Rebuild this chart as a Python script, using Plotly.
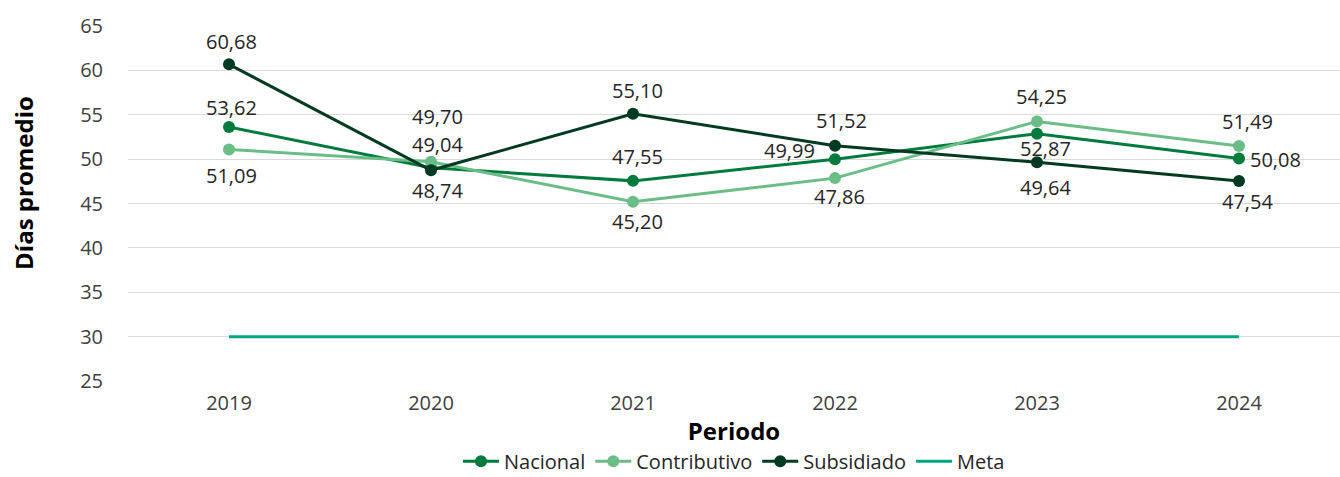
import plotly.graph_objects as go

periodos = ["2019", "2020", "2021", "2022", "2023", "2024"]
nacional = [53.62, 49.04, 47.55, 49.99, 52.87, 50.08]
contributivo = [51.09, 49.70, 45.20, 47.86, 54.25, 51.49]
subsidiado = [60.68, 48.74, 55.10, 51.52, 49.64, 47.54]
meta = [30, 30, 30, 30, 30, 30]

# label offsets in screen pixels (dx right, dy down)
off_nacional = [(2, -20), (6, -23), (4, -24), (-46, -9), (8, 15), (36, 1)]
off_contributivo = [(2, 26), (6, -45), (4, 20), (4, 18), (4, -25), (8, -24)]
off_subsidiado = [(2, -23), (6, 20), (4, -23), (6, -25), (8, 25), (8, 21)]

def fmt(v):
    return f"{v:.2f}".replace(".", ",")

FONT = "Open Sans"
fig = go.Figure()

def add(name, vals, color, offs):
    fig.add_trace(go.Scatter(
        x=periodos, y=vals, name=name, mode="lines+markers",
        line=dict(color=color, width=3), marker=dict(color=color, size=12),
    ))
    for i, (v, (dx, dy)) in enumerate(zip(vals, offs)):
        fig.add_annotation(
            x=i, y=v, xref="x", yref="y", text=fmt(v), showarrow=False,
            xanchor="center", yanchor="middle", xshift=dx, yshift=-dy,
            font=dict(family=FONT, size=20, color="#262626"),
        )

add("Nacional", nacional, "#007A3D", off_nacional)
add("Contributivo", contributivo, "#6ABD87", off_contributivo)
add("Subsidiado", subsidiado, "#003A22", off_subsidiado)
fig.add_trace(go.Scatter(x=periodos, y=meta, name="Meta", mode="lines",
                         line=dict(color="#00A67E", width=3)))

# y-axis title as paper annotation (centred like the reference)
fig.add_annotation(
    x=0, y=0.558, xref="paper", yref="paper", text="<b>Días promedio</b>",
    showarrow=False, textangle=-90, xanchor="center", yanchor="middle", xshift=-104,
    font=dict(family=FONT, size=24, color="black"),
)

fig.update_layout(
    width=1340, height=477,
    margin=dict(l=128, r=0, t=26, b=96, autoexpand=False),
    plot_bgcolor="white", paper_bgcolor="white",
    font=dict(family=FONT, size=20, color="#404040"),
    xaxis=dict(type="category", range=[-0.5, 5.5], showgrid=False, showline=False, ticks="",
               tickfont=dict(size=20, color="#404040"), automargin=False, ticklabelstandoff=8,
               title=dict(text="<b>Periodo</b>", font=dict(size=24, color="black"), standoff=8)),
    yaxis=dict(range=[25, 65], dtick=5, showgrid=True, gridcolor="#D9D9D9", gridwidth=1,
               zeroline=False, ticks="", tickfont=dict(size=20, color="#404040"),
               ticklabelstandoff=24, automargin=False),
    legend=dict(orientation="h", x=0.5, xanchor="center", y=-0.226, yanchor="middle",
                font=dict(size=20, color="#262626"), itemwidth=36, tracegroupgap=0),
    showlegend=True,
)
fig.write_html("out.html", post_script="document.body.style.margin='0';",
               config={"displayModeBar": False})
